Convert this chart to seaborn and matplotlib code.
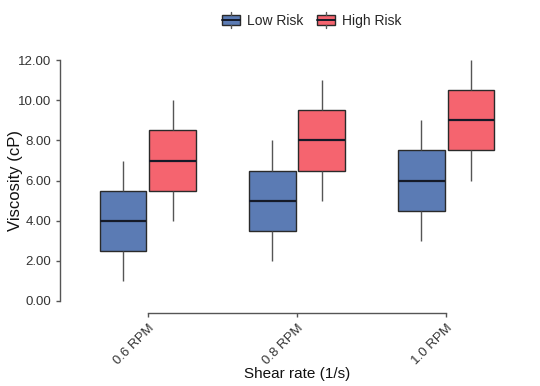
import matplotlib
matplotlib.use("Agg")
import matplotlib.pyplot as plt
import seaborn as sns
import pandas as pd
from matplotlib.ticker import FormatStrFormatter
from matplotlib.legend_handler import HandlerBase
from matplotlib.patches import Rectangle
from matplotlib.lines import Line2D

shear_rates = ["0.6 RPM", "0.8 RPM", "1.0 RPM"]
groups = ["Low Risk", "High Risk"]
# five-number summaries: min, q1, median, q3, max
low_risk = {
    "0.6 RPM": [1, 2.5, 4, 5.5, 7],
    "0.8 RPM": [2, 3.5, 5, 6.5, 8],
    "1.0 RPM": [3, 4.5, 6, 7.5, 9],
}
high_risk = {
    "0.6 RPM": [4, 5.5, 7, 8.5, 10],
    "0.8 RPM": [5, 6.5, 8, 9.5, 11],
    "1.0 RPM": [6, 7.5, 9, 10.5, 12],
}
colors = ["#5b7bb4", "#f5646f"]

rows = []
for g, d in zip(groups, [low_risk, high_risk]):
    for s in shear_rates:
        for v in d[s]:
            rows.append({"Shear rate": s, "Group": g, "Viscosity": v})
df = pd.DataFrame(rows)

sns.set_theme(style="ticks")
plt.rcParams["font.family"] = ["Liberation Sans", "DejaVu Sans"]

fig = plt.figure(figsize=(5.4, 3.86), dpi=100)
ax = fig.add_axes([0.136, 0.2047, 0.828, 0.655])

sns.boxplot(data=df, x="Shear rate", y="Viscosity", hue="Group",
            order=shear_rates, hue_order=groups, palette=colors,
            width=0.66, gap=0.06, showcaps=False, saturation=1,
            linecolor="#2a2a2a", linewidth=1.0,
            whiskerprops={"color": "#555555", "linewidth": 1.0},
            medianprops={"color": "#151a28", "linewidth": 1.6},
            ax=ax, legend=False)

ax.set_ylim(-0.3, 12.3)
ax.set_xlim(-0.5, 2.5)
ax.set_yticks([0, 2, 4, 6, 8, 10, 12])
ax.yaxis.set_major_formatter(FormatStrFormatter("%.2f"))
ax.set_xlabel("Shear rate (1/s)", fontsize=11, color="#111111", labelpad=0)
ax.set_ylabel("Viscosity (cP)", fontsize=12, color="#111111")
ax.yaxis.set_label_coords(-0.113, 0.5)

sns.despine(ax=ax, offset={"left": 9.5, "bottom": 4.5}, trim=True)
for sp in ["left", "bottom"]:
    ax.spines[sp].set_color("#555555")
    ax.spines[sp].set_linewidth(1.0)
ax.tick_params(axis="both", labelsize=9.5, colors="#555555", labelcolor="#333333",
               length=3, width=1)
plt.setp(ax.get_xticklabels(), rotation=45, ha="right", rotation_mode="anchor")


class BoxHandler(HandlerBase):
    def __init__(self, color):
        super().__init__()
        self.color = color

    def create_artists(self, legend, orig_handle, xdescent, ydescent,
                       width, height, fontsize, trans):
        cx = width / 2 - xdescent
        rect = Rectangle((-xdescent, -ydescent + height * 0.1), width, height * 0.8,
                         facecolor=self.color, edgecolor="#2a2a2a", lw=1.0,
                         transform=trans)
        med = Line2D([-xdescent, width - xdescent],
                     [-ydescent + height / 2] * 2, color="#151a28", lw=1.4,
                     transform=trans)
        w1 = Line2D([cx, cx], [-ydescent - height * 0.15, -ydescent + height * 0.1],
                    color="#555555", lw=1.0, transform=trans)
        w2 = Line2D([cx, cx], [-ydescent + height * 0.9, -ydescent + height * 1.15],
                    color="#555555", lw=1.0, transform=trans)
        return [rect, med, w1, w2]


h1 = Rectangle((0, 0), 1, 1)
h2 = Rectangle((0, 0), 1, 1)
fig.legend([h1, h2], groups, loc="lower center", bbox_to_anchor=(0.577, 0.895),
           ncol=2, frameon=False, fontsize=10, handlelength=1.3,
           handleheight=1.0, columnspacing=1.0, handletextpad=0.5,
           handler_map={h1: BoxHandler(colors[0]), h2: BoxHandler(colors[1])})

fig.savefig("out.png", dpi=100)
